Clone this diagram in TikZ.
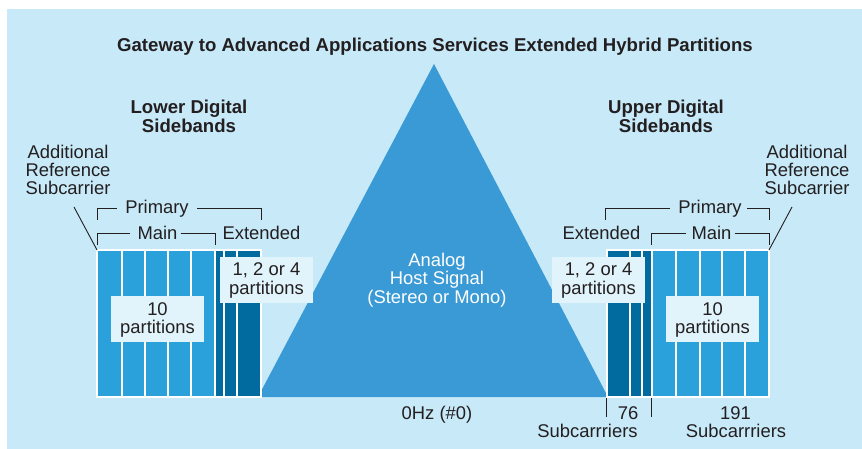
\documentclass[tikz,border=0pt]{standalone}
\usepackage{fontspec}
\setmainfont{Liberation Sans}
\definecolor{bgc}{HTML}{C7E9F8}
\definecolor{mainc}{HTML}{2BA1DC}
\definecolor{extc}{HTML}{016BA0}
\definecolor{tric}{HTML}{3A9AD6}
\definecolor{boxbg}{HTML}{E1F3FB}
\definecolor{ink}{HTML}{231F20}
\begin{document}
\begin{tikzpicture}[x=1pt,y=-1pt,
  txt/.style={text=ink,font=\fontsize{18.4}{18.4}\selectfont,inner sep=0pt,align=center},
  hd/.style={text=ink,font=\bfseries\fontsize{18.6}{18.6}\selectfont,inner sep=0pt,align=center},
  wtxt/.style={text=white,font=\fontsize{18.4}{18.4}\selectfont,inner sep=0pt,align=center},
  mainst/.style={fill=mainc,draw=white,line width=1.4pt},
  extst/.style={fill=extc,draw=white,line width=1.4pt},
  lblbox/.style={fill=boxbg,inner sep=0pt,minimum width=93pt,minimum height=46pt},
  brk/.style={draw=ink,line width=0.9pt},
]
\useasboundingbox (0,0) rectangle (862,449);
\fill[white] (0,0) rectangle (862,449);
\fill[bgc] (7,9) rectangle (862,449);

% analog triangle
\fill[tric] (258,397) -- (434,64) -- (608,397) -- cycle;

% lower sideband stripes
\foreach \a/\b in {97/122,122/145,145/168,168/191,191/215}
  \draw[mainst] (\a,250) rectangle (\b,397);
\foreach \a/\b in {215/224,224/237,237/261}
  \draw[extst] (\a,250) rectangle (\b,397);
% upper sideband stripes
\foreach \a/\b in {607/630,630/642,642/652}
  \draw[extst] (\a,250) rectangle (\b,397);
\foreach \a/\b in {652/676,676/700,700/722,722/745,745/769}
  \draw[mainst] (\a,250) rectangle (\b,397);

% label boxes
\node[lblbox] (l10) at (157.5,318.5) {};
\node[lblbox] (r10) at (712.5,318.5) {};
\node[lblbox] (l124) at (266.5,280) {};
\node[lblbox] (r124) at (598.5,280) {};
\node[txt] (l10t) at ([yshift=-1.5pt]l10.center) {10\\partitions};
\node[txt] (r10t) at ([yshift=-1.5pt]r10.center) {10\\partitions};
\node[txt] (l124t) at ([yshift=-0.5pt]l124.center) {1, 2 or 4\\partitions};
\node[txt] (r124t) at ([yshift=-0.5pt]r124.center) {1, 2 or 4\\partitions};

% titles
\node[hd,anchor=base] (title) at (435,51.7) {Gateway to Advanced Applications Services Extended Hybrid Partitions};
\node[hd,anchor=base] (lowhd) at (189,132.3) {Lower Digital\\Sidebands};
\node[hd,anchor=base] (uphd) at (666,132.3) {Upper Digital\\Sidebands};

\node[wtxt,anchor=base] (analog) at (437,303.3) {Analog\\Host Signal\\(Stereo or Mono)};

% additional reference subcarrier labels
\node[txt,anchor=base] (lars) at (68,195) {Additional\\Reference\\Subcarrier};
\node[txt,anchor=base] (rars) at (807,195) {Additional\\Reference\\Subcarrier};
\coordinate (larsend) at (74,207);
\coordinate (rarsend) at (792,207);
\coordinate (lrefc) at (97,250);
\coordinate (rrefc) at (769,250);
\draw[brk] (larsend) -- (lrefc);
\draw[brk] (rarsend) -- (rrefc);

% left brackets
\node[txt,anchor=base] (lprim) at (157,213.3) {Primary};
\node[txt,anchor=base] (lmain) at (157.5,240) {Main};
\node[txt,anchor=base] (lext) at (261.5,240) {Extended};
\coordinate (lpa) at (97,220);
\coordinate (lpb) at (261,220);
\coordinate (lma) at (97,245);
\coordinate (lmb) at (215,245);
\draw[brk] (lpa) |- ([xshift=-8pt]lprim.west);
\draw[brk] ([xshift=8pt]lprim.east) -| (lpb);
\draw[brk] (lma) |- ([xshift=-7pt]lmain.west);
\draw[brk] ([xshift=3pt]lmain.east) -| (lmb);

% right brackets
\node[txt,anchor=base] (rprim) at (710,213.3) {Primary};
\node[txt,anchor=base] (rmain) at (711.5,240) {Main};
\node[txt,anchor=base] (rext) at (601.5,240) {Extended};
\coordinate (rpa) at (605,220);
\coordinate (rpb) at (769,220);
\coordinate (rma) at (651,245);
\coordinate (rmb) at (769,245);
\draw[brk] (rpa) |- ([xshift=-8pt]rprim.west);
\draw[brk] ([xshift=5pt]rprim.east) -| (rpb);
\draw[brk] (rma) |- ([xshift=-5pt]rmain.west);
\draw[brk] ([xshift=3pt]rmain.east) -| (rmb);

% bottom labels
\node[txt,anchor=base] (zero) at (437,419) {0Hz (\#0)};
\node[txt,anchor=base] (n76) at (628,419) {76};
\node[txt,anchor=base] (s76) at (587.5,437.3) {Subcarrriers};
\node[txt,anchor=base] (n191) at (735.5,419) {191};
\node[txt,anchor=base] (s191) at (736,437.3) {Subcarrriers};
\coordinate (t1a) at (606,398);
\coordinate (t1b) at (606,417);
\coordinate (t2a) at (651,398);
\coordinate (t2b) at (651,417);
\draw[brk] (t1a) -- (t1b);
\draw[brk] (t2a) -- (t2b);
\end{tikzpicture}
\end{document}
